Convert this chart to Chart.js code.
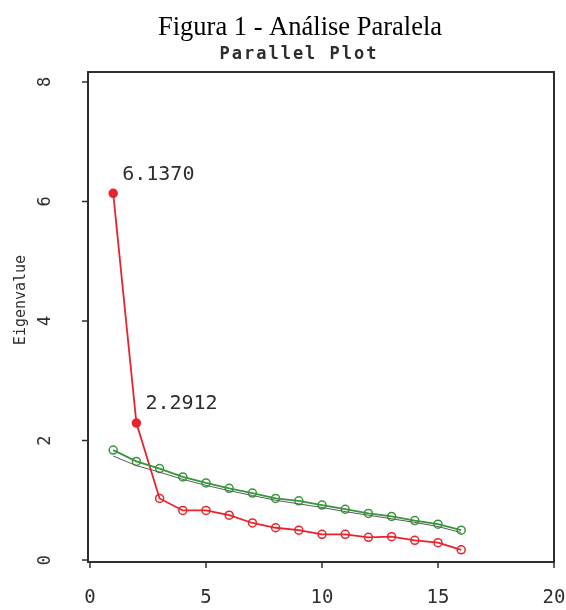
<!DOCTYPE html>
<html>
<head>
<meta charset="utf-8">
<script src="https://cdn.jsdelivr.net/npm/chart.js@4.4.1/dist/chart.umd.min.js"></script>
<style>
  html, body { margin: 0; padding: 0; background: #fff; }
  #wrap { width: 566px; height: 610px; }
</style>
</head>
<body>
<div id="wrap"><canvas id="cnv"></canvas></div>
<script>
// ---- data ----
const components   = [1, 2, 3, 4, 5, 6, 7, 8, 9, 10, 11, 12, 13, 14, 15, 16];
const observed     = [6.1370, 2.2912, 1.03, 0.83, 0.83, 0.75, 0.62, 0.54, 0.50, 0.43, 0.43, 0.38, 0.39, 0.33, 0.29, 0.17];
const randomMean   = [1.84, 1.65, 1.53, 1.39, 1.29, 1.20, 1.12, 1.03, 0.99, 0.92, 0.85, 0.78, 0.73, 0.66, 0.60, 0.50];
const randomLow    = [1.74, 1.58, 1.47, 1.35, 1.25, 1.16, 1.08, 1.00, 0.94, 0.88, 0.81, 0.75, 0.69, 0.63, 0.56, 0.46];
const xTicks       = [0, 5, 10, 15, 20];
const yTicks       = [0, 2, 4, 6, 8];
const labelled     = [0, 1];   // indexes of observed points that get a value label

const RED = '#e8232b', GREEN = '#37963a', GREY = '#5a5a5a', INK = '#2e2e2e';
const MONO = '"DejaVu Sans Mono", monospace';

const pts = arr => arr.map((v, i) => ({ x: components[i], y: v }));

// ---- frame, ticks, titles, labels (R base-graphics look) ----
const decor = {
  id: 'decor',
  afterDatasetsDraw(chart) {
    const { ctx, chartArea: a, scales: { x, y } } = chart;
    ctx.save();
    ctx.strokeStyle = INK; ctx.fillStyle = INK;
    ctx.lineWidth = 2;
    ctx.strokeRect(a.left, a.top, a.right - a.left, a.bottom - a.top);

    ctx.lineWidth = 1.5;
    // x ticks + labels
    ctx.font = '19px ' + MONO;
    ctx.textAlign = 'center'; ctx.textBaseline = 'middle';
    xTicks.forEach(t => {
      const px = x.getPixelForValue(t);
      ctx.beginPath(); ctx.moveTo(px, a.bottom); ctx.lineTo(px, a.bottom + 6); ctx.stroke();
      ctx.fillText(String(t), px, 598);
    });
    // y ticks + rotated labels
    ctx.font = '17px ' + MONO;
    yTicks.forEach(t => {
      const py = y.getPixelForValue(t);
      ctx.beginPath(); ctx.moveTo(a.left - 6, py); ctx.lineTo(a.left, py); ctx.stroke();
      ctx.save(); ctx.translate(46, py); ctx.rotate(-Math.PI / 2);
      ctx.fillText(String(t), 0, 0); ctx.restore();
    });
    // axis title
    ctx.font = '15px ' + MONO;
    ctx.save(); ctx.translate(21, 300); ctx.rotate(-Math.PI / 2);
    ctx.fillText('Eigenvalue', 0, 0); ctx.restore();

    // value labels on first points
    ctx.font = '20px ' + MONO;
    ctx.textAlign = 'left';
    labelled.forEach(i => {
      const px = x.getPixelForValue(components[i]), py = y.getPixelForValue(observed[i]);
      ctx.fillText(observed[i].toFixed(4), px + 9, py - 19);
    });

    // plot title
    ctx.font = 'bold 17px ' + MONO;
    ctx.letterSpacing = '2px';
    ctx.textAlign = 'center';
    ctx.fillText('Parallel Plot', 299, 55);
    ctx.letterSpacing = '0px';

    // figure caption
    ctx.fillStyle = '#000';
    ctx.font = '26.5px "Liberation Serif", "Times New Roman", serif';
    ctx.fillText('Figura 1 - Análise Paralela', 300, 28);
    ctx.restore();
  }
};

new Chart('cnv', {
  type: 'line',
  data: {
    datasets: [
      {
        data: pts(randomLow), borderColor: GREY, borderWidth: 1,
        pointRadius: 0, tension: 0
      },
      {
        data: pts(randomMean), borderColor: GREEN, borderWidth: 1.8,
        pointStyle: 'circle', pointRadius: 4, pointBorderWidth: 1.5,
        pointBorderColor: GREEN, pointBackgroundColor: 'rgba(0,0,0,0)', tension: 0
      },
      {
        data: pts(observed), borderColor: RED, borderWidth: 1.8,
        pointStyle: 'circle', pointRadius: 4, pointBorderWidth: 1.5,
        pointBorderColor: RED,
        pointBackgroundColor: ctx => labelled.includes(ctx.dataIndex) ? RED : 'rgba(0,0,0,0)',
        tension: 0
      }
    ]
  },
  options: {
    responsive: true,
    maintainAspectRatio: false,
    animation: false,
    layout: { padding: { left: 88, top: 72, right: 12, bottom: 48 } },
    plugins: { legend: { display: false }, tooltip: { enabled: false } },
    scales: {
      x: { type: 'linear', display: false, min: -0.086, max: 20 },
      y: { type: 'linear', display: false, min: -0.033, max: 8.167 }
    }
  },
  plugins: [decor]
});
</script>
</body>
</html>
